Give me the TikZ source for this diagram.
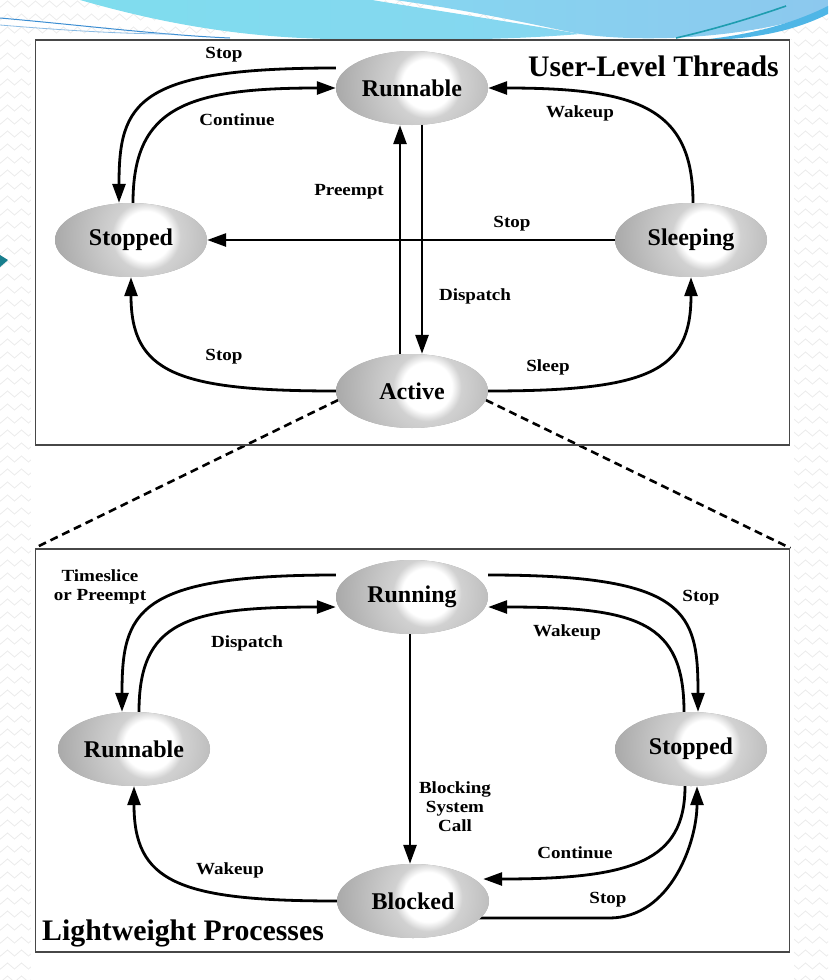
\documentclass[tikz,border=0pt]{standalone}
\usepackage{fontspec}
\setmainfont{Liberation Serif}
\newfontfamily\lblfont[FakeStretch=1.12]{Liberation Serif}
\usetikzlibrary{shapes.geometric,arrows.meta,decorations.pathmorphing,calc}
\pgfdeclarelayer{bg}
\pgfdeclarelayer{edges}
\pgfsetlayers{bg,edges,main}
\definecolor{gA}{gray}{0.82}
\definecolor{gB}{gray}{0.76}
\definecolor{gC}{gray}{0.64}
\definecolor{cyanA}{HTML}{7FDDEE}
\definecolor{cyanB}{HTML}{86D6F0}
\definecolor{blueB}{HTML}{8CC8EE}
\definecolor{blueC}{HTML}{4FB6E6}
\definecolor{tealL}{HTML}{1E9DB0}
\definecolor{thinB}{HTML}{3C8ED2}
\definecolor{zzc}{gray}{0.92}
\pgfdeclareradialshading{blob}{\pgfpointorigin}{color(0bp)=(white); color(6.2bp)=(white); color(8.6bp)=(gA); color(14bp)=(gB); color(25bp)=(gC); color(50bp)=(gC)}
\tikzset{
  state/.style={ellipse, minimum width=152pt, minimum height=74pt, inner sep=0pt,
    fill=gC, font=\fontsize{24}{26}\selectfont\bfseries,
    path picture={\shade[shading=blob] ([xshift=15pt,yshift=4pt]path picture bounding box.center) circle (100pt);}},
  arr/.style={line width=2.8pt, -{Triangle[length=19pt,width=13pt]}},
  lbl/.style={font=\lblfont\bfseries\fontsize{17}{19}\selectfont, align=center, inner sep=0pt},
  ttl/.style={font=\fontsize{29.8}{32}\selectfont\bfseries, inner sep=0pt},
  panel/.style={draw=black!72, line width=1.8pt, inner sep=0pt, minimum width=754pt},
  dashln/.style={line width=2.6pt, dash pattern=on 8pt off 5pt},
  zz/.style={draw=zzc, line width=0.8pt, decorate, decoration={zigzag, segment length=14pt, amplitude=3pt}}
}
\begin{document}
\begin{tikzpicture}[x=1pt,y=-1pt]
\useasboundingbox (0,0) rectangle (828,980);
\begin{pgfonlayer}{bg}
\begin{scope}
\clip (0,0) rectangle (828,980);
\foreach \r in {0,...,76} {\path[zz] (-10,\r*13+4) -- (850,\r*13+4);}
\fill[white] (31,40) rectangle (794,980);
\shade[left color=cyanA, right color=cyanB] (80,0) .. controls (150,20) and (230,37) .. (330,39) .. controls (450,41) and (520,39) .. (580,34) .. controls (500,20) and (420,8) .. (372,0) -- cycle;
\shade[left color=cyanB, right color=blueB] (395,0) .. controls (480,12) and (540,26) .. (580,34) .. controls (660,45) and (770,34) .. (828,10) -- (828,0) -- cycle;
\fill[blueC] (700,40) .. controls (760,34) and (800,20) .. (828,6) -- (828,14) .. controls (800,28) and (760,40) .. (700,40) -- cycle;
\draw[tealL, line width=1.6pt] (676,38) .. controls (720,28) and (760,15) .. (786,6);
\draw[thinB, line width=1pt] (0,18) .. controls (80,25) and (160,35) .. (230,38);
\draw[thinB!60, line width=0.8pt] (0,25) .. controls (60,30) and (120,34) .. (174,34);
\fill[tealL!80!black] (0,255) -- (8,260) -- (0,267) -- cycle;
\end{scope}
\end{pgfonlayer}

% panels
\node[panel, minimum height=405pt] (topbox) at (412.5,242.5) {};
\node[panel, minimum height=403pt] (lowbox) at (412.5,750.5) {};

% top states
\node[state] (runT) at (412,88) {Runnable};
\node[state] (stopT) at (131,240) {Stopped};
\node[state] (sleep) at (691,240) {Sleeping};
\node[state] (actT) at (412,391) {Active};
\node[ttl, anchor=east] (ttl1) at (779,66) {User-Level Threads};

% lower states
\node[state] (run) at (412,597) {Running};
\node[state] (runL) at (134,749) {Runnable};
\node[state] (stopL) at (691,749) {Stopped};
\node[state] (blk) at (413,901) {Blocked};
\node[ttl, anchor=west] (ttl2) at (42,933) {Lightweight Processes};

\begin{pgfonlayer}{edges}
% top edges
\draw[arr] ([yshift=20pt]runT.west) .. controls +(-200,0) and +(0,-100) .. ([xshift=-12pt]stopT.north);
\draw[arr] ([xshift=2pt]stopT.north) .. controls +(0,-95) and +(-150,0) .. (runT.west);
\draw[arr] ([xshift=2pt]sleep.north) .. controls +(0,-95) and +(150,0) .. (runT.east);
\draw[arr] ([xshift=-12pt]actT.north) -- ([xshift=-12pt]runT.south);
\draw[arr] ([xshift=10pt]runT.south) -- ([xshift=10pt]actT.north);
\draw[arr] (sleep.west) -- (stopT.east);
\draw[arr] (actT.west) .. controls +(-160,0) and +(0,95) .. (stopT.south);
\draw[arr] (actT.east) .. controls +(160,0) and +(0,95) .. (sleep.south);
% dashed zoom lines
\draw[dashln] (actT.187) -- (lowbox.north west);
\draw[dashln] (actT.353) -- (lowbox.north east);
% lower edges
\draw[arr] ([yshift=22pt]run.west) .. controls +(-200,0) and +(0,-100) .. ([xshift=-12pt]runL.north);
\draw[arr] ([xshift=5pt]runL.north) .. controls +(0,-90) and +(-150,0) .. ([yshift=-10pt]run.west);
\draw[arr] ([yshift=22pt]run.east) .. controls +(200,0) and +(0,-100) .. ([xshift=7pt]stopL.north);
\draw[arr] ([xshift=-7pt]stopL.north) .. controls +(0,-90) and +(150,0) .. ([yshift=-10pt]run.east);
\draw[arr] ([xshift=-2pt]run.south) -- ([xshift=-3pt]blk.north);
\draw[arr] (blk.west) .. controls +(-160,0) and +(0,95) .. (runL.south);
\draw[arr] ([xshift=-6pt]stopL.south) .. controls +(0,75) and +(150,0) .. ([xshift=-6pt,yshift=22pt]blk.east);
\draw[arr] ([xshift=-10pt,yshift=-17pt]blk.east) -- ++(130,0) .. controls +(62,0) and +(0,55) .. ([xshift=6pt]stopL.south);
\end{pgfonlayer}

% top labels
\node[lbl] (l1) at (224,55) {Stop};
\node[lbl] (l2) at (237,120) {Continue};
\node[lbl] (l3) at (580,113) {Wakeup};
\node[lbl] (l4) at (349,192) {Preempt};
\node[lbl] (l5) at (475,296) {Dispatch};
\node[lbl] (l6) at (512,224) {Stop};
\node[lbl] (l7) at (224,357) {Stop};
\node[lbl] (l8) at (548,367) {Sleep};
% lower labels
\node[lbl] (m1) at (100,587) {Timeslice\\or Preempt};
\node[lbl] (m2) at (247,643) {Dispatch};
\node[lbl] (m3) at (701,598) {Stop};
\node[lbl] (m4) at (567,632) {Wakeup};
\node[lbl] (m5) at (455,807) {Blocking\\System\\Call};
\node[lbl] (m6) at (230,870) {Wakeup};
\node[lbl] (m7) at (575,853) {Continue};
\node[lbl] (m8) at (608,900) {Stop};
\end{tikzpicture}
\end{document}
